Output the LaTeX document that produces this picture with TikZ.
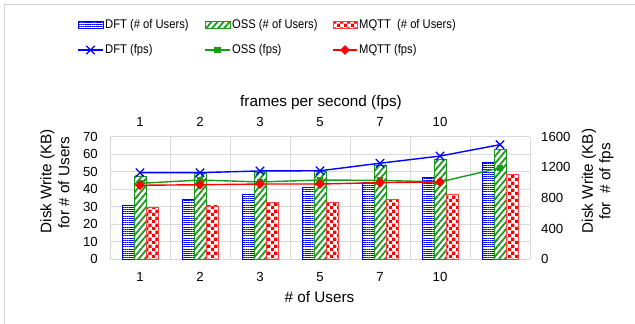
\documentclass[tikz,border=0pt]{standalone}
\usepackage{fontspec}
\setmainfont{Liberation Sans}
\usetikzlibrary{patterns,patterns.meta,shapes.misc,shapes.geometric}
\definecolor{cblue}{RGB}{0,0,255}
\definecolor{cgreen}{RGB}{26,153,26}
\definecolor{cred}{RGB}{255,0,0}
\definecolor{gridc}{RGB}{217,217,217}
\definecolor{bordc}{RGB}{210,210,210}
\pgfdeclarepatternformonly{mycheck}{\pgfqpoint{0pt}{0pt}}{\pgfqpoint{6.6pt}{6.6pt}}{\pgfqpoint{6.6pt}{6.6pt}}{%
  \pgfpathrectangle{\pgfqpoint{0pt}{0pt}}{\pgfqpoint{3.3pt}{3.3pt}}%
  \pgfpathrectangle{\pgfqpoint{3.3pt}{3.3pt}}{\pgfqpoint{3.3pt}{3.3pt}}%
  \pgfusepath{fill}}
\begin{document}
\begin{tikzpicture}[x=1pt,y=1pt,
  lbl/.style={inner sep=0pt, font=\fontsize{13.2}{14}\selectfont},
  ttl/.style={inner sep=0pt, font=\fontsize{15.3}{16}\selectfont},
  leg/.style={inner sep=0pt, anchor=west, xscale=0.89, font=\fontsize{12.6}{13}\selectfont},
  gridline/.style={draw=gridc, line width=0.8pt},
  dftbar/.style={draw=cblue, line width=0.8pt, preaction={fill=white},
    pattern={Lines[angle=0,distance=2.2pt,line width=1pt]}, pattern color=cblue},
  ossbar/.style={draw=cgreen, line width=0.8pt, preaction={fill=white},
    pattern={Lines[angle=50,distance=4.6pt,line width=1.8pt]}, pattern color=cgreen},
  mqttbar/.style={draw=cred!75, line width=0.8pt, preaction={fill=white},
    pattern=mycheck, pattern color=cred},
  dftline/.style={draw=cblue, line width=1.4pt},
  ossline/.style={draw=cgreen, line width=1.4pt},
  mqttline/.style={draw=cred, line width=1.4pt},
  xmark/.style={cross out, draw=cblue, line width=1.3pt, minimum size=7pt, inner sep=0pt},
  smark/.style={rectangle, fill=cgreen, minimum size=6.5pt, inner sep=0pt},
  dmark/.style={diamond, fill=cred, minimum size=10pt, inner sep=0pt}]
\useasboundingbox (0,0) rectangle (635,324);
\draw[draw=bordc, line width=0.8pt] (4,0) -- (4,319.5) -- (635,319.5);

% legend
\draw[dftbar] (78,295.5) rectangle (103,302.5);
\node[leg] (l1) at (105,299) {DFT (\# of Users)};
\draw[ossbar] (205,295.5) rectangle (230,302.5);
\node[leg] (l2) at (232,299) {OSS (\# of Users)};
\draw[mqttbar] (333,295.5) rectangle (357,302.5);
\node[leg] (l3) at (359,299) {MQTT\ \ (\# of Users)};
\coordinate (la1) at (78,274); \coordinate (lb1) at (103,274);
\draw[dftline] (la1) -- (lb1);
\node[xmark] (lm1) at (90.5,274) {};
\node[leg] (l4) at (105,274) {DFT (fps)};
\coordinate (la2) at (205,274); \coordinate (lb2) at (230,274);
\draw[ossline] (la2) -- (lb2);
\node[smark] (lm2) at (217.5,274) {};
\node[leg] (l5) at (232,274) {OSS (fps)};
\coordinate (la3) at (333,274); \coordinate (lb3) at (357,274);
\draw[mqttline] (la3) -- (lb3);
\node[dmark] (lm3) at (345,274) {};
\node[leg] (l6) at (359,274) {MQTT (fps)};

\begin{scope}[shift={(110pt,64.7pt)}, x=1pt, y=1.75pt]
  \foreach \v in {0,10,...,70} \draw[gridline] (0,\v) -- (420,\v);
  \foreach \c in {0,60,...,420} \draw[gridline] (\c,0) -- (\c,70);
  \foreach \i/\b/\g/\r in {0/31/47.6/29.8,1/34/49.1/30.5,2/37.3/49.7/32.7,3/41.3/50/32.7,4/44.2/53.9/34.3,5/46.9/57.1/37.1,6/55.4/62.9/48.6}{
    \pgfmathsetmacro\cx{30+60*\i}
    \draw[dftbar] (\cx-18,0) rectangle (\cx-6,\b);
    \draw[ossbar] (\cx-6,0) rectangle (\cx+6,\g);
    \draw[mqttbar] (\cx+6,0) rectangle (\cx+18,\r);
  }
  \foreach \i/\d/\o in {0/49.5/43.4,1/49.5/45.3,2/50.5/44.2,3/50.6/45.3,4/54.9/45.1,5/59.0/44.2,6/65.5/52.2}{
    \coordinate (d\i) at (30+60*\i,\d);
    \coordinate (o\i) at (30+60*\i,\o);
  }
  \foreach \i/\m in {0/42.3,1/42.6,2/43.0,3/43.0,4/43.8,5/44.2}{
    \coordinate (m\i) at (30+60*\i,\m);
  }
  \draw[dftline] (d0) -- (d1) -- (d2) -- (d3) -- (d4) -- (d5) -- (d6);
  \foreach \i in {0,...,6} \node[xmark] (dx\i) at (d\i) {};
  \draw[ossline] (o0) -- (o1) -- (o2) -- (o3) -- (o4) -- (o5) -- (o6);
  \foreach \i in {0,...,6} \node[smark] (ox\i) at (o\i) {};
  \draw[mqttline] (m0) -- (m1) -- (m2) -- (m3) -- (m4) -- (m5);
  \foreach \i in {0,...,5} \node[dmark] (mx\i) at (m\i) {};
  % tick labels
  \foreach \v in {0,10,...,70} \node[lbl, anchor=east] (yl\v) at (-12,\v) {\v};
  \foreach \v/\l in {0/0,17.5/400,35/800,52.5/1200,70/1600} \node[lbl, anchor=west] (yr\l) at (431,\v) {\l};
\end{scope}

\foreach \i/\t in {0/1,1/2,2/3,3/5,4/7,5/10}{
  \node[lbl] (bx\i) at (140+60*\i,47.3) {\t};
  \node[lbl] (tx\i) at (140+60*\i,202.3) {\t};
}
\node[ttl] (xt) at (319.5,27.3) {\# of Users};
\node[ttl] (xtt) at (321,221.7) {frames per second (fps)};
\node[ttl, rotate=90] (ylt1) at (47.5,142.7) {Disk Write (KB)};
\node[ttl, rotate=90] (ylt2) at (63.8,141.5) {for \# of Users};
\node[ttl, rotate=90] (yrt1) at (588.8,143) {Disk Write (KB)};
\node[ttl, rotate=90] (yrt2) at (606.3,142.5) {for\ \ \# of fps};
\end{tikzpicture}
\end{document}
